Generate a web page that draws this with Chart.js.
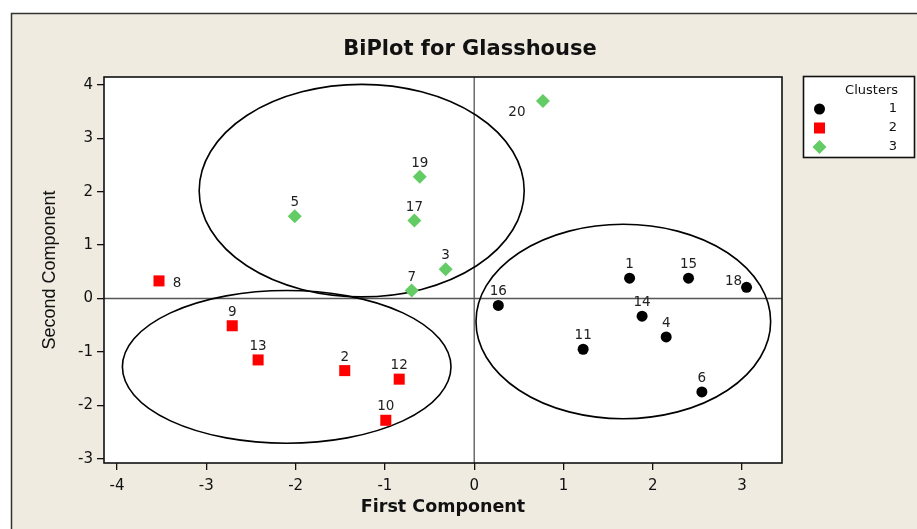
<!DOCTYPE html>
<html>
<head>
<meta charset="utf-8">
<title>BiPlot for Glasshouse</title>
<script src="https://cdn.jsdelivr.net/npm/chart.js@4.4.0/dist/chart.umd.min.js"></script>
<style>
  html, body { margin: 0; padding: 0; background: #fff; }
  #wrap { width: 917px; height: 529px; }
</style>
</head>
<body>
<div id="wrap"><canvas id="myChart"></canvas></div>
<script>
// component scores per cluster (observation number, first, second)
const cluster1Ids = [1, 15, 18, 16, 14, 4, 11, 6];
const cluster1X = [1.74, 2.40, 3.05, 0.27, 1.88, 2.15, 1.22, 2.55];
const cluster1Y = [0.38, 0.38, 0.21, -0.13, -0.33, -0.72, -0.95, -1.75];

const cluster2Ids = [8, 9, 13, 2, 12, 10];
const cluster2X = [-3.53, -2.71, -2.42, -1.45, -0.84, -0.99];
const cluster2Y = [0.33, -0.51, -1.15, -1.35, -1.51, -2.28];

const cluster3Ids = [19, 5, 17, 3, 7, 20];
const cluster3X = [-0.61, -2.01, -0.67, -0.32, -0.70, 0.77];
const cluster3Y = [2.28, 1.54, 1.46, 0.55, 0.15, 3.70];

// cluster ellipses: centre and half axes in component units
const ellipseCx = [1.67, -2.10, -1.26];
const ellipseCy = [-0.43, -1.28, 2.02];
const ellipseRx = [1.65, 1.84, 1.82];
const ellipseRy = [1.82, 1.43, 1.99];

const clusterNames = ["1", "2", "3"];
const chartTitle = "BiPlot for Glasshouse";

const toPoints = (xs, ys) => xs.map((x, i) => ({ x: x, y: ys[i] }));
const ids = [cluster1Ids, cluster2Ids, cluster3Ids];

// label offsets that are not "just above the marker"
const labelShift = { 8: [18, 3], 18: [-13, -6], 20: [-26, 12] };

const biplotPlugin = {
  id: "biplot",
  beforeDraw(chart) {
    const { ctx, chartArea: a } = chart;
    ctx.save();
    ctx.fillStyle = "#efebe1";
    ctx.fillRect(11, 13, chart.width - 11, chart.height - 13);
    ctx.strokeStyle = "#333";
    ctx.lineWidth = 1.5;
    ctx.beginPath();
    ctx.moveTo(11.5, chart.height);
    ctx.lineTo(11.5, 13.5);
    ctx.lineTo(chart.width, 13.5);
    ctx.stroke();
    ctx.fillStyle = "#fff";
    ctx.fillRect(a.left, a.top, a.width, a.height);
    // title, centred on the figure rather than the plot
    ctx.fillStyle = "#111";
    ctx.font = "bold 21px 'DejaVu Sans'";
    ctx.textAlign = "center";
    ctx.textBaseline = "middle";
    ctx.fillText(chartTitle, 470, 50);
    ctx.restore();
  },
  beforeDatasetsDraw(chart) {
    const { ctx, chartArea: a, scales } = chart;
    const sx = scales.x, sy = scales.y;
    ctx.save();
    // reference lines through the origin
    ctx.strokeStyle = "#555";
    ctx.lineWidth = 1.3;
    ctx.beginPath();
    const x0 = sx.getPixelForValue(0), y0 = sy.getPixelForValue(0);
    ctx.moveTo(x0, a.top);
    ctx.lineTo(x0, a.bottom);
    ctx.moveTo(a.left, y0);
    ctx.lineTo(a.right, y0);
    ctx.stroke();
    // ellipses
    ctx.strokeStyle = "#000";
    ctx.lineWidth = 1.6;
    ellipseCx.forEach((cx, i) => {
      const px = sx.getPixelForValue(cx);
      const py = sy.getPixelForValue(ellipseCy[i]);
      const rx = Math.abs(sx.getPixelForValue(cx + ellipseRx[i]) - px);
      const ry = Math.abs(sy.getPixelForValue(ellipseCy[i] + ellipseRy[i]) - py);
      ctx.beginPath();
      ctx.ellipse(px, py, rx, ry, 0, 0, Math.PI * 2);
      ctx.stroke();
    });
    ctx.restore();
  },
  afterDatasetsDraw(chart) {
    const { ctx } = chart;
    ctx.save();
    ctx.font = "13.5px 'DejaVu Sans'";
    ctx.fillStyle = "#222";
    ctx.textAlign = "center";
    ctx.textBaseline = "middle";
    chart.data.datasets.forEach((ds, di) => {
      chart.getDatasetMeta(di).data.forEach((el, i) => {
        const id = ids[di][i];
        const sh = labelShift[id] || [0, -13.5];
        ctx.fillText(String(id), el.x + sh[0], el.y + sh[1]);
      });
    });
    ctx.restore();
  },
  afterDraw(chart) {
    const { ctx, chartArea: a } = chart;
    ctx.save();
    ctx.strokeStyle = "#111";
    ctx.lineWidth = 1.6;
    ctx.strokeRect(a.left, a.top, a.width, a.height);

    // legend box
    const bx = 803.5, by = 76.5, bw = 111, bh = 81;
    ctx.fillStyle = "#fff";
    ctx.fillRect(bx, by, bw, bh);
    ctx.strokeRect(bx, by, bw, bh);
    ctx.font = "13px 'DejaVu Sans'";
    ctx.fillStyle = "#111";
    ctx.textAlign = "right";
    ctx.textBaseline = "middle";
    ctx.fillText("Clusters", 898, 90.5);
    chart.data.datasets.forEach((ds, i) => {
      const y = 109 + i * 19;
      ctx.fillStyle = ds.backgroundColor;
      Chart.helpers.drawPoint(ctx, { pointStyle: ds.pointStyle, radius: ds.pointRadius, rotation: 0, borderWidth: 0 }, 819.5, y);
      ctx.fillStyle = "#111";
      ctx.fillText(ds.label, 897, y);
    });
    ctx.restore();
  },
};

const ctx = document.getElementById("myChart").getContext("2d");
const myChart = new Chart(ctx, {
  type: "scatter",
  data: {
    datasets: [
      {
        label: clusterNames[0],
        data: toPoints(cluster1X, cluster1Y),
        pointStyle: "circle",
        pointRadius: 5.5,
        backgroundColor: "#000",
        borderWidth: 0,
      },
      {
        label: clusterNames[1],
        data: toPoints(cluster2X, cluster2Y),
        pointStyle: "rect",
        pointRadius: 7.8,
        backgroundColor: "#ff0000",
        borderWidth: 0,
      },
      {
        label: clusterNames[2],
        data: toPoints(cluster3X, cluster3Y),
        pointStyle: "rectRot",
        pointRadius: 7,
        backgroundColor: "#64cc64",
        borderWidth: 0,
      },
    ],
  },
  options: {
    responsive: true,
    maintainAspectRatio: false,
    animation: false,
    events: [],
    layout: { padding: { left: 0, right: 135, top: 77, bottom: 0 } },
    plugins: {
      legend: { display: false },
      tooltip: { enabled: false },
      title: { display: false },
    },
    scales: {
      x: {
        type: "linear",
        min: -4.146,
        max: 3.447,
        afterFit: (s) => { s.height = 66; },
        ticks: {
          stepSize: 1,
          includeBounds: false,
          color: "#111",
          padding: 7,
          font: { family: "'DejaVu Sans'", size: 15 },
        },
        grid: { drawOnChartArea: false, tickLength: 7, color: "#111", lineWidth: 1.3 },
        border: { display: false },
        title: {
          display: true,
          text: "First Component",
          color: "#111",
          font: { family: "'DejaVu Sans'", size: 17.5, weight: "bold", lineHeight: 1.2 },
          padding: { top: 0, bottom: 11.5 },
        },
      },
      y: {
        type: "linear",
        min: -3.08,
        max: 4.148,
        afterFit: (s) => { s.width = 104; },
        ticks: {
          stepSize: 1,
          includeBounds: false,
          color: "#111",
          padding: 4,
          font: { family: "'DejaVu Sans'", size: 15 },
        },
        grid: { drawOnChartArea: false, tickLength: 7, color: "#111", lineWidth: 1.3 },
        border: { display: false },
        title: {
          display: true,
          text: "Second Component",
          color: "#111",
          font: { family: "'Liberation Sans'", size: 18, lineHeight: 1.2 },
          padding: { top: 39.2, bottom: 0 },
        },
      },
    },
  },
  plugins: [biplotPlugin],
});
</script>
</body>
</html>
